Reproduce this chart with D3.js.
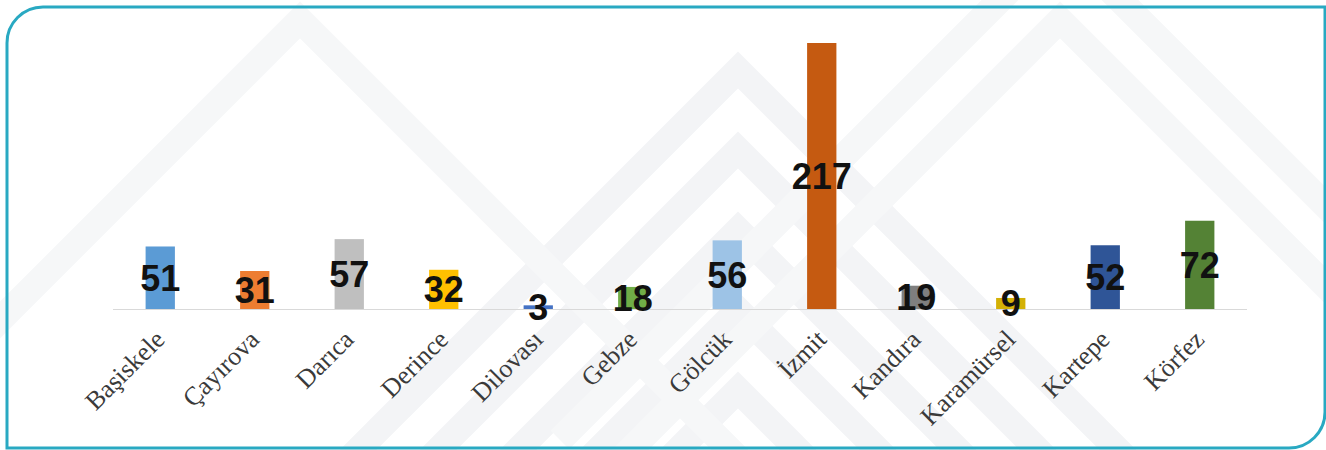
<!DOCTYPE html>
<html>
<head>
<meta charset="utf-8">
<script src="https://cdn.jsdelivr.net/npm/d3@7"></script>
<style>
  html, body { margin: 0; padding: 0; background: #fff; }
  svg { display: block; }
</style>
</head>
<body>
<svg id="chart" width="1326" height="450"></svg>
<script>
// districts and counts
const districts = ["Başiskele", "Çayırova", "Darıca", "Derince", "Dilovası", "Gebze",
                   "Gölcük", "İzmit", "Kandıra", "Karamürsel", "Kartepe", "Körfez"];
const counts = [51, 31, 57, 32, 3, 18, 56, 217, 19, 9, 52, 72];
const barColors = ["#5b9bd5", "#ed7d31", "#bfbfbf", "#ffc000", "#4472c4", "#70ad47",
                   "#9dc3e6", "#c55a11", "#7f7f7f", "#d4b106", "#2f5597", "#548235"];

const W = 1326, H = 450;
const svg = d3.select("#chart");

// faint chevron background
const bg = svg.append("g").attr("fill", "none").attr("stroke", "#f3f4f6")
    .attr("stroke-width", 26);
[[738, 70], [738, 150], [738, 230], [738, 310], [738, 390]].forEach(function(c) {
    bg.append("path")
        .attr("d", "M" + (c[0] - 600) + "," + (c[1] + 600) + "L" + c[0] + "," + c[1] + "L" + (c[0] + 600) + "," + (c[1] + 600));
});
[[1060, -60], [1060, 20], [300, 20]].forEach(function(c) {
    bg.append("path").attr("stroke", "#f6f7f8")
        .attr("d", "M" + (c[0] - 500) + "," + (c[1] + 500) + "L" + c[0] + "," + c[1] + "L" + (c[0] + 500) + "," + (c[1] + 500));
});

// card frame: rounded top-left and bottom-right
const x0 = 7, y0 = 7, x1 = 1325, y1 = 448, r = 36;
svg.append("path")
    .attr("d", "M" + (x1 + 4) + "," + y0 + "L" + (x0 + r) + "," + y0 +
               "A" + r + "," + r + " 0 0 0 " + x0 + "," + (y0 + r) +
               "L" + x0 + "," + y1 + "L" + (x1 - r) + "," + y1 +
               "A" + r + "," + r + " 0 0 0 " + x1 + "," + (y1 - r) +
               "L" + x1 + "," + y0)
    .attr("fill", "none")
    .attr("stroke", "#29a9c2")
    .attr("stroke-width", 3);

const baseY = 309;
const x = d3.scaleBand().domain(districts).range([113, 1247]).paddingInner(0.69).paddingOuter(0.345);
const y = d3.scaleLinear().domain([0, d3.max(counts)]).range([baseY, 43]);

const data = districts.map(function(d, i) { return { name: d, value: counts[i], color: barColors[i] }; });

const g = svg.append("g");

g.selectAll("rect.bar")
    .data(data)
    .enter().append("rect")
    .attr("class", "bar")
    .attr("x", function(d) { return x(d.name); })
    .attr("y", function(d) { return y(d.value); })
    .attr("width", x.bandwidth())
    .attr("height", function(d) { return baseY - y(d.value); })
    .attr("fill", function(d) { return d.color; });

// zero line
g.append("line")
    .attr("x1", 113).attr("x2", 1247)
    .attr("y1", baseY + 0.5).attr("y2", baseY + 0.5)
    .attr("stroke", "#d9d9d9").attr("stroke-width", 1);

// category labels, rotated
const xAxis = g.append("g")
    .attr("transform", "translate(0," + baseY + ")")
    .call(d3.axisBottom(x).tickSize(0).tickPadding(0));
xAxis.select(".domain").remove();
xAxis.selectAll("text")
    .attr("transform", "translate(6,32) rotate(-45)")
    .attr("dy", "0")
    .style("text-anchor", "end")
    .style("font-family", "'Liberation Serif', 'Times New Roman', serif")
    .style("font-size", "26px")
    .style("fill", "#3a3a3a");

// value labels centred in the bars
g.selectAll("text.val")
    .data(data)
    .enter().append("text")
    .attr("class", "val")
    .attr("x", function(d) { return x(d.name) + x.bandwidth() / 2; })
    .attr("y", function(d) { return (y(d.value) + baseY) / 2; })
    .attr("dy", "0.36em")
    .attr("text-anchor", "middle")
    .style("font-family", "'Liberation Sans', Arial, sans-serif")
    .style("font-weight", "bold")
    .style("font-size", "36px")
    .style("fill", "#111")
    .text(function(d) { return d.value; });
</script>
</body>
</html>
